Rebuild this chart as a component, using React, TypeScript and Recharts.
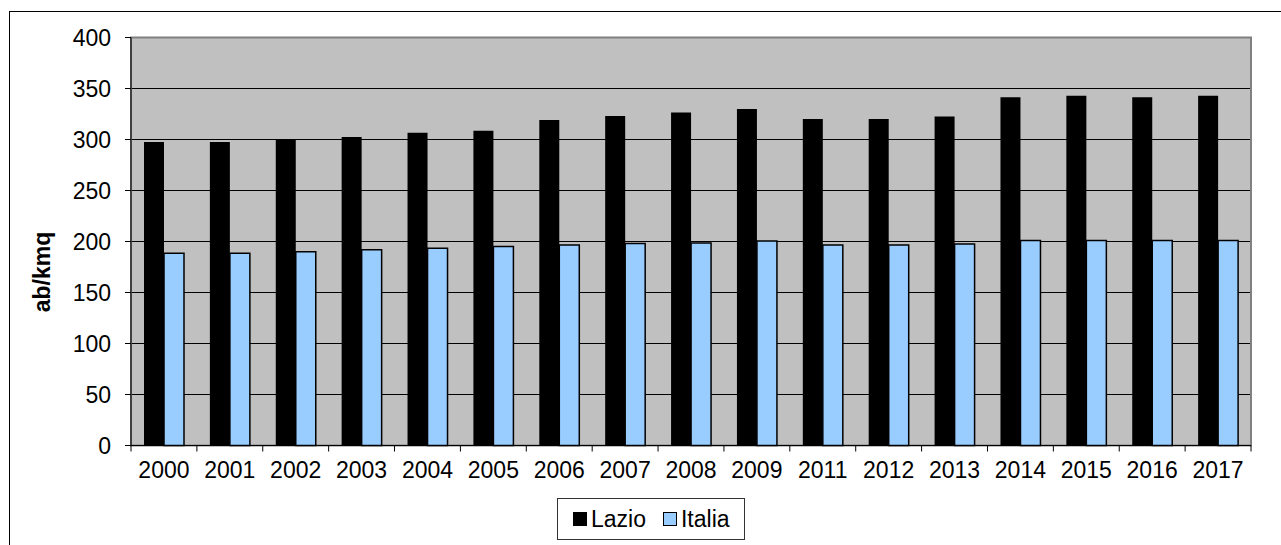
import React from 'react';
import { BarChart, Bar, XAxis, YAxis, CartesianGrid, Legend, ReferenceArea } from 'recharts';

const years = ['2000', '2001', '2002', '2003', '2004', '2005', '2006', '2007', '2008', '2009', '2011', '2012', '2013', '2014', '2015', '2016', '2017'];
const lazio = [297.5, 297.5, 299.5, 302.5, 306.5, 308.5, 319, 323, 326.5, 330, 320, 320, 322.5, 341.5, 343, 341.5, 343];
const italia = [188.5, 188.5, 190, 192, 193.5, 195, 196.5, 198, 198.5, 200.5, 196.5, 196.5, 197.5, 201, 201, 201, 201];
const yTicks = [0, 50, 100, 150, 200, 250, 300, 350, 400];
const seriesNames = ['Lazio', 'Italia'];
const seriesColors = ['#000000', '#99ccff'];
const axisTitle = 'ab/kmq';

const data = years.map((y, i) => ({ year: y, Lazio: lazio[i], Italia: italia[i] }));
// positions on a helper numeric axis: integers = category boundaries, halves = category centres
const helperTicks = Array.from({ length: years.length * 2 + 1 }, (_, i) => i / 2);

const FONT = '"Liberation Sans", Arial, sans-serif';
const FS = 23;
const X_TICK_SIZE = 6;
const X_TICK_MARGIN = 10;

const YTitle = () => (
  <text
    x={50}
    y={272}
    transform="rotate(-90, 50, 272)"
    textAnchor="middle"
    fontFamily={FONT}
    fontWeight="bold"
    fontSize={FS}
    fill="#000"
  >
    {axisTitle}
  </text>
);

const XTick = (props: any) => {
  const { x, y, payload } = props;
  const v = payload.value as number;
  const axisY = y - X_TICK_SIZE - X_TICK_MARGIN;
  if (Number.isInteger(v)) {
    return <line x1={x} x2={x} y1={axisY} y2={axisY + X_TICK_SIZE} stroke="#000" strokeWidth={1} />;
  }
  const label = years[Math.floor(v)];
  return (
    <text x={x} y={y} dy="0.71em" textAnchor="middle" fontFamily={FONT} fontSize={FS} fill="#000">
      {label}
    </text>
  );
};

const LegendBox = () => (
  <div
    style={{
      boxSizing: 'border-box',
      width: 188,
      height: 42,
      border: '1.5px solid #333',
      background: '#fff',
      display: 'flex',
      alignItems: 'center',
      paddingLeft: 15,
      fontFamily: FONT,
      fontSize: FS,
      color: '#000',
    }}
  >
    {seriesNames.map((n, i) => (
      <div key={n} style={{ display: 'flex', alignItems: 'center', marginRight: i === 0 ? 17 : 0 }}>
        <span
          style={{
            display: 'inline-block',
            boxSizing: 'border-box',
            width: 14,
            height: 14,
            background: seriesColors[i],
            border: '1px solid #000',
            marginRight: 4,
          }}
        />
        <span style={{ lineHeight: '22px' }}>{n}</span>
      </div>
    ))}
  </div>
);

export default function App() {
  return (
    <div style={{ position: 'absolute', left: 0, top: 0, width: 1281, height: 545, overflow: 'hidden', background: '#fff' }}>
      <div
        style={{
          position: 'absolute',
          left: 9,
          top: 11,
          width: 1400,
          height: 700,
          borderTop: '1.5px solid #000',
          borderLeft: '1.5px solid #000',
        }}
      />
      <div style={{ position: 'absolute', left: 0, top: 0 }}>
        <BarChart
          width={1281}
          height={545}
          data={data}
          margin={{ top: 37.5, right: 30, bottom: 69.5, left: 0 }}
          barCategoryGap={13}
          barGap={0}
        >
          <CartesianGrid vertical={false} fill="#c0c0c0" stroke="#000" strokeWidth={1} fillOpacity={1} />
          <ReferenceArea y1={0} y2={400} fill="none" stroke="#808080" strokeWidth={2} ifOverflow="visible" />
          <XAxis dataKey="year" hide height={0} />
          <XAxis
            xAxisId="labels"
            type="number"
            dataKey={() => 0}
            domain={[0, years.length]}
            ticks={helperTicks}
            interval={0}
            allowDataOverflow
            height={30}
            tick={<XTick />}
            tickSize={X_TICK_SIZE}
            tickMargin={X_TICK_MARGIN}
            tickLine={false}
            axisLine={{ stroke: '#000' }}
          />
          <YAxis
            width={131}
            domain={[0, 400]}
            ticks={yTicks}
            interval={0}
            tickSize={6}
            tickMargin={14}
            axisLine={{ stroke: '#000' }}
            tickLine={{ stroke: '#000' }}
            tick={{ fill: '#000', fontFamily: FONT, fontSize: FS }}
            label={<YTitle />}
          />
          <Legend
            layout="horizontal"
            verticalAlign="middle"
            align="center"
            wrapperStyle={{ left: 557, top: 498, width: 188, height: 42 }}
            content={() => <LegendBox />}
          />
          <Bar dataKey="Lazio" name={seriesNames[0]} fill={seriesColors[0]} isAnimationActive={false} />
          <Bar
            dataKey="Italia"
            name={seriesNames[1]}
            fill={seriesColors[1]}
            stroke="#000"
            strokeWidth={1.5}
            isAnimationActive={false}
          />
        </BarChart>
      </div>
    </div>
  );
}
